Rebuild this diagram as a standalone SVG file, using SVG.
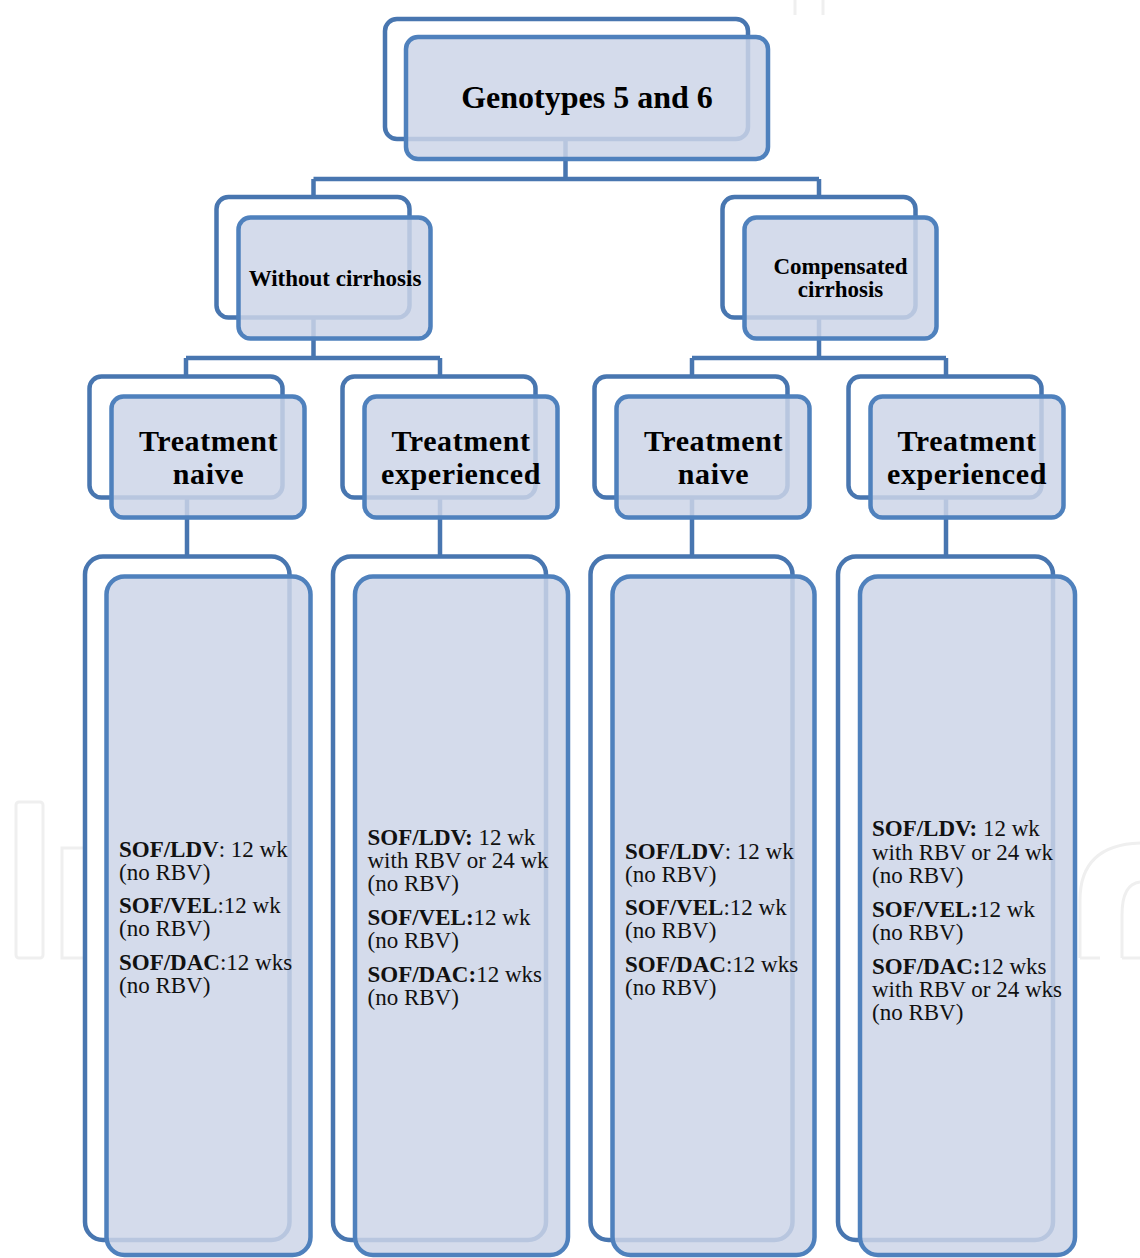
<svg xmlns="http://www.w3.org/2000/svg" width="1140" height="1258" viewBox="0 0 1140 1258">
<style>
.wm{fill:none;stroke:#efefef;stroke-width:3}
.con{fill:none;stroke:#4876b0;stroke-width:4.5}
.back{fill:#ffffff;stroke:#4876b0;stroke-width:4.5}
.front{fill:#ccd5e7;fill-opacity:0.85;stroke:#4f81bd;stroke-width:4.5}
.h{font-family:"Liberation Serif","Times New Roman",serif;font-weight:bold;fill:#000;text-anchor:middle}
.b{font-family:"Liberation Serif","Times New Roman",serif;font-size:23px;fill:#111}
.bb{font-weight:bold}
</style>
<rect width="1140" height="1258" fill="#ffffff"/>
<g id="watermark">
<rect class="wm" x="16" y="802" width="27" height="156" rx="3"/>
<path class="wm" d="M84 958 H62 V848 H84"/>
<path class="wm" d="M1080 958 V900 Q1080 845 1140 843"/>
<path class="wm" d="M1080 958 H1100"/>
<path class="wm" d="M1122 958 V915 Q1122 884 1140 882"/>
<path class="wm" d="M1122 958 H1140"/>
<path class="wm" d="M795 0 V15 M823 0 V15"/>
</g>
<g id="connectors">
<path class="con" d="M565.5 139 V179 M313.5 179 H819 M313.5 179 V197 M819 179 V197"/>
<path class="con" d="M313.5 317 V358 M186 358 H440 M186 358 V377 M440 358 V377"/>
<path class="con" d="M819 317 V358 M692 358 H946 M692 358 V377 M946 358 V377"/>
<path class="con" d="M187 497 V557 M440 497 V557 M692 497 V557 M946 497 V557"/>
</g>
<g id="n-root">
<rect class="back" x="385" y="19" width="363" height="120" rx="12"/>
<rect class="front" x="406" y="37" width="362" height="122" rx="12"/>
<text class="h" x="587" y="108" font-size="32">Genotypes 5 and 6</text>
</g>
<g id="n-without">
<rect class="back" x="216.5" y="197" width="193" height="120.5" rx="12"/>
<rect class="front" x="238.5" y="217.5" width="192" height="121" rx="12"/>
<text class="h" x="335" y="286" font-size="23">Without cirrhosis</text>
</g>
<g id="n-compensated">
<rect class="back" x="722.5" y="197" width="193" height="120.5" rx="12"/>
<rect class="front" x="744.5" y="217.5" width="192" height="121" rx="12"/>
<text class="h" x="840.5" y="274" font-size="23">Compensated</text>
<text class="h" x="840.5" y="297" font-size="23">cirrhosis</text>
</g>
<g id="n-tn1">
<rect class="back" x="89.5" y="376.5" width="193" height="121" rx="12"/>
<rect class="front" x="111.5" y="396.5" width="193" height="121" rx="12"/>
<text class="h" x="208.5" y="451" font-size="30" letter-spacing="0.6">Treatment</text>
<text class="h" x="208.5" y="484" font-size="30" letter-spacing="0.6">naive</text>
</g>
<g id="n-te1">
<rect class="back" x="342.5" y="376.5" width="193" height="121" rx="12"/>
<rect class="front" x="364.5" y="396.5" width="193" height="121" rx="12"/>
<text class="h" x="461" y="451" font-size="30" letter-spacing="0.6">Treatment</text>
<text class="h" x="461" y="484" font-size="30" letter-spacing="0.6">experienced</text>
</g>
<g id="n-tn2">
<rect class="back" x="594.5" y="376.5" width="193" height="121" rx="12"/>
<rect class="front" x="616.5" y="396.5" width="193" height="121" rx="12"/>
<text class="h" x="713.5" y="451" font-size="30" letter-spacing="0.6">Treatment</text>
<text class="h" x="713.5" y="484" font-size="30" letter-spacing="0.6">naive</text>
</g>
<g id="n-te2">
<rect class="back" x="848.5" y="376.5" width="193" height="121" rx="12"/>
<rect class="front" x="870.5" y="396.5" width="193" height="121" rx="12"/>
<text class="h" x="967" y="451" font-size="30" letter-spacing="0.6">Treatment</text>
<text class="h" x="967" y="484" font-size="30" letter-spacing="0.6">experienced</text>
</g>
<g id="n-r1">
<rect class="back" x="85" y="556.5" width="204.5" height="683.5" rx="18"/>
<rect class="front" x="106.5" y="576.5" width="204" height="678.5" rx="18"/>
<text class="b" x="119" y="857"><tspan class="bb">SOF/LDV</tspan>: 12 wk</text>
<text class="b" x="119" y="880">(no RBV)</text>
<text class="b" x="119" y="913"><tspan class="bb">SOF/VEL</tspan>:12 wk</text>
<text class="b" x="119" y="936">(no RBV)</text>
<text class="b" x="119" y="970"><tspan class="bb">SOF/DAC</tspan>:12 wks</text>
<text class="b" x="119" y="993">(no RBV)</text>
</g>
<g id="n-r2">
<rect class="back" x="333" y="556.5" width="213" height="683.5" rx="18"/>
<rect class="front" x="355" y="576.5" width="213" height="678.5" rx="18"/>
<text class="b" x="367.5" y="845"><tspan class="bb">SOF/LDV:</tspan> 12 wk</text>
<text class="b" x="367.5" y="868">with RBV or 24 wk</text>
<text class="b" x="367.5" y="891">(no RBV)</text>
<text class="b" x="367.5" y="925"><tspan class="bb">SOF/VEL:</tspan>12 wk</text>
<text class="b" x="367.5" y="948">(no RBV)</text>
<text class="b" x="367.5" y="982"><tspan class="bb">SOF/DAC:</tspan>12 wks</text>
<text class="b" x="367.5" y="1005">(no RBV)</text>
</g>
<g id="n-r3">
<rect class="back" x="590.5" y="556.5" width="202" height="683.5" rx="18"/>
<rect class="front" x="612.5" y="576.5" width="202" height="678.5" rx="18"/>
<text class="b" x="625" y="859"><tspan class="bb">SOF/LDV</tspan>: 12 wk</text>
<text class="b" x="625" y="882">(no RBV)</text>
<text class="b" x="625" y="915"><tspan class="bb">SOF/VEL</tspan>:12 wk</text>
<text class="b" x="625" y="938">(no RBV)</text>
<text class="b" x="625" y="972"><tspan class="bb">SOF/DAC</tspan>:12 wks</text>
<text class="b" x="625" y="995">(no RBV)</text>
</g>
<g id="n-r4">
<rect class="back" x="838" y="556.5" width="215" height="683.5" rx="18"/>
<rect class="front" x="860" y="576.5" width="215" height="678.5" rx="18"/>
<text class="b" x="872" y="836"><tspan class="bb">SOF/LDV:</tspan> 12 wk</text>
<text class="b" x="872" y="860">with RBV or 24 wk</text>
<text class="b" x="872" y="883">(no RBV)</text>
<text class="b" x="872" y="917"><tspan class="bb">SOF/VEL:</tspan>12 wk</text>
<text class="b" x="872" y="940">(no RBV)</text>
<text class="b" x="872" y="974"><tspan class="bb">SOF/DAC:</tspan>12 wks</text>
<text class="b" x="872" y="997">with RBV or 24 wks</text>
<text class="b" x="872" y="1020">(no RBV)</text>
</g>
</svg>
